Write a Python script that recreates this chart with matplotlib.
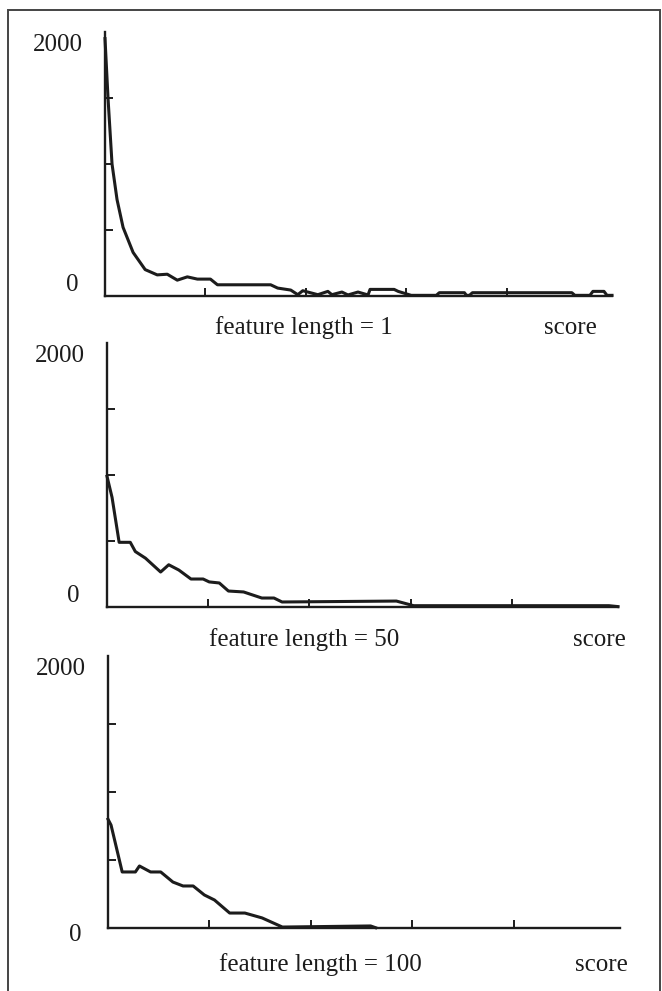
import matplotlib
matplotlib.use("Agg")
import matplotlib.pyplot as plt
from matplotlib.patches import Rectangle

plt.rcParams['font.family'] = ['Liberation Serif', 'DejaVu Serif']

# ---------------- data ----------------
captions = ["feature length = 1", "feature length = 50", "feature length = 100"]
axis_label = "score"
y_tick_values = [500, 1000, 1500]
x_tick_values = [100, 200, 300, 400]
y_top_label = "2000"
y_zero_label = "0"

score_1 = [0, 3, 7, 12, 18, 28, 40, 52, 62, 72, 82, 92, 105, 112, 165, 172, 185,
           192, 197, 202, 212, 222, 226, 236, 242, 252, 262, 264, 288, 292, 305,
           330, 333, 358, 360, 363, 366, 465, 468, 483, 486, 497, 500, 505]
count_1 = [1950, 1500, 1000, 730, 520, 330, 200, 160, 165, 120, 145, 128, 128, 85, 85, 60, 45,
           10, 40, 30, 10, 35, 10, 30, 8, 30, 8, 50, 50, 35, 5,
           5, 25, 25, 5, 5, 25, 25, 5, 5, 35, 35, 5, 5]

score_50 = [0, 5, 12, 23, 28, 38, 53, 61, 71, 83, 95, 101, 111, 120, 135, 153, 165, 173,
            286, 303, 496, 505]
count_50 = [990, 830, 490, 490, 420, 370, 265, 320, 280, 212, 212, 190, 182, 121, 114, 68, 68, 38,
            45, 10, 10, 3]

score_100 = [0, 3, 14, 27, 31, 42, 52, 64, 74, 84, 95, 105, 120, 135, 152, 172, 259, 264]
count_100 = [800, 757, 412, 412, 456, 412, 412, 338, 309, 309, 243, 206, 110, 110, 74, 7, 15, 2]

series = [(score_1, count_1), (score_50, count_50), (score_100, count_100)]

# ---------------- layout (pixels) ----------------
W, H = 662, 991
fig = plt.figure(figsize=(W / 100, H / 100), dpi=100)

# (x0, x1, y_top, y_base) in pixels
boxes = [(105, 612, 32, 296), (107, 618, 343, 607), (108, 620, 656, 928)]
caption_xy = [(304, 328), (304, 640), (320, 965)]
score_xy = [(570, 328), (599, 640), (601, 965)]
zero_dy = [0, 0, -18]

ink = '#1c1c1c'
fs = 18

for i, ((sx, sy), (x0, x1, yt, yb)) in enumerate(zip(series, boxes)):
    ax = fig.add_axes([x0 / W, (H - yb) / H, (x1 - x0) / W, (yb - yt) / H])
    ax.set_xlim(0, 505)
    ax.set_ylim(0, 2000)
    ax.plot(sx, sy, color=ink, lw=2.2, solid_joinstyle='round', clip_on=False)
    for s in ['top', 'right']:
        ax.spines[s].set_visible(False)
    for s in ['left', 'bottom']:
        ax.spines[s].set_linewidth(1.7)
        ax.spines[s].set_color(ink)
    ax.set_xticks(x_tick_values)
    ax.set_yticks(y_tick_values)
    ax.tick_params(direction='in', length=6, width=1.4, color=ink,
                   labelbottom=False, labelleft=False)
    ax.patch.set_alpha(0)
    ax.annotate(y_top_label, xy=(0, 2000), xycoords='data', xytext=(-22, -2),
                textcoords='offset pixels', ha='right', va='top', fontsize=fs, color=ink)
    ax.annotate(y_zero_label, xy=(0, 0), xycoords='data', xytext=(-27, zero_dy[i]),
                textcoords='offset pixels', ha='right', va='bottom', fontsize=fs, color=ink)
    cx, cy = caption_xy[i]
    fig.text(cx / W, 1 - cy / H, captions[i], ha='center', va='center', fontsize=fs, color=ink)
    sxp, syp = score_xy[i]
    fig.text(sxp / W, 1 - syp / H, axis_label, ha='center', va='center', fontsize=fs, color=ink)

# outer frame
fig.patches.append(Rectangle((8 / W, -0.01), (660 - 8) / W, 1 - 10 / H + 0.01,
                             transform=fig.transFigure, fill=False, lw=1.4,
                             edgecolor='#444444'))

fig.savefig("out.png", dpi=100)
